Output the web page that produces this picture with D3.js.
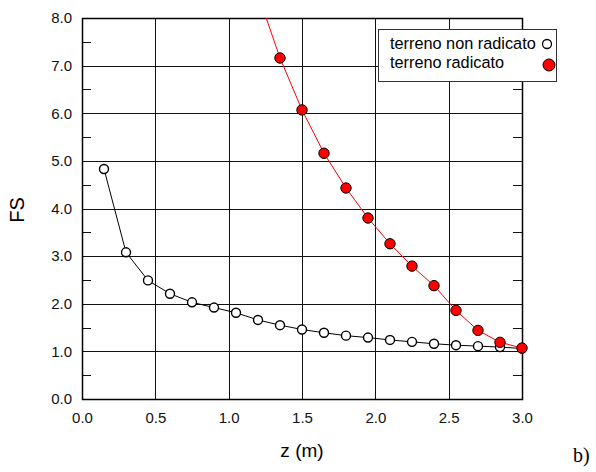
<!DOCTYPE html>
<meta charset="utf-8">
<head lang="en">
    <title></title>
    <script src="https://d3js.org/d3.v7.min.js"></script>
    <style type="text/css">
        body { margin: 0; background: #fff; }
        svg { font-family: "Liberation Sans", Arial, sans-serif; }
        .grid line { stroke: #111; stroke-width: 1; shape-rendering: crispEdges; }
        .axis text { font-size: 15px; fill: #111; }
    </style>
</head>
<body>
<script type="text/javascript">
    // depth values (m)
    var zNonRad = [0.15, 0.30, 0.45, 0.60, 0.75, 0.90, 1.05, 1.20, 1.35, 1.50, 1.65, 1.80, 1.95,
        2.10, 2.25, 2.40, 2.55, 2.70, 2.85, 3.00];
    var fsNonRad = [4.83, 3.08, 2.49, 2.21, 2.03, 1.92, 1.81, 1.66, 1.55, 1.46, 1.39, 1.33, 1.29,
        1.24, 1.20, 1.16, 1.13, 1.11, 1.09, 1.06];
    var zRad = [1.20, 1.35, 1.50, 1.65, 1.80, 1.95, 2.10, 2.25, 2.40, 2.55, 2.70, 2.85, 3.00];
    var fsRad = [8.50, 7.16, 6.07, 5.16, 4.43, 3.80, 3.26, 2.79, 2.38, 1.86, 1.44, 1.19, 1.07];
    var xTicks = [0, 0.5, 1.0, 1.5, 2.0, 2.5, 3.0];
    var yTicks = [0, 1, 2, 3, 4, 5, 6, 7, 8];
    var yMinor = [0.5, 1.5, 2.5, 3.5, 4.5, 5.5, 6.5, 7.5];
    var legendLabels = ["terreno non radicato", "terreno radicato"];

    var width = 596, height = 472;
    var margin = {left: 82, top: 18, right: 74, bottom: 73};
    var w = width - margin.left - margin.right;
    var h = height - margin.top - margin.bottom;

    var svg = d3.select("body").append("svg")
        .attr("width", width)
        .attr("height", height);

    var g = svg.append("g")
        .attr("transform", "translate(" + margin.left + "," + margin.top + ")");

    var x = d3.scaleLinear().domain([0, 3]).range([0, w]);
    var y = d3.scaleLinear().domain([0, 8]).range([h, 0]);

    // grid
    var grid = g.append("g").attr("class", "grid");
    grid.selectAll(".vx").data(xTicks).enter().append("line")
        .attr("x1", function (d) { return Math.round(x(d)) + 0.5; })
        .attr("x2", function (d) { return Math.round(x(d)) + 0.5; })
        .attr("y1", 0).attr("y2", h);
    grid.selectAll(".hy").data(yTicks).enter().append("line")
        .attr("y1", function (d) { return Math.round(y(d)) + 0.5; })
        .attr("y2", function (d) { return Math.round(y(d)) + 0.5; })
        .attr("x1", 0).attr("x2", w);

    // frame
    g.append("rect")
        .attr("x", 0.5).attr("y", 0.5)
        .attr("width", w).attr("height", h)
        .attr("fill", "none")
        .attr("stroke", "#000")
        .attr("stroke-width", 1.5);

    // minor ticks on left and right edges
    grid.selectAll(".ml").data(yMinor).enter().append("line")
        .attr("y1", function (d) { return Math.round(y(d)) + 0.5; })
        .attr("y2", function (d) { return Math.round(y(d)) + 0.5; })
        .attr("x1", 0).attr("x2", 9);
    grid.selectAll(".mr").data(yMinor).enter().append("line")
        .attr("y1", function (d) { return Math.round(y(d)) + 0.5; })
        .attr("y2", function (d) { return Math.round(y(d)) + 0.5; })
        .attr("x1", w - 9).attr("x2", w);

    // axes (labels only)
    var xAxis = d3.axisBottom(x).tickValues(xTicks).tickSize(0).tickPadding(13)
        .tickFormat(d3.format(".1f"));
    var yAxis = d3.axisLeft(y).tickValues(yTicks).tickSize(0).tickPadding(10)
        .tickFormat(d3.format(".1f"));
    g.append("g").attr("class", "axis")
        .attr("transform", "translate(0," + h + ")")
        .call(xAxis)
        .call(function (s) { s.select(".domain").remove(); });
    g.append("g").attr("class", "axis")
        .call(yAxis)
        .call(function (s) { s.select(".domain").remove(); });

    // clip
    g.append("clipPath").attr("id", "clip")
        .append("rect").attr("x", 0).attr("y", 0).attr("width", w).attr("height", h);

    var nonRad = zNonRad.map(function (z, i) { return {z: z, fs: fsNonRad[i]}; });
    var rad = zRad.map(function (z, i) { return {z: z, fs: fsRad[i]}; });

    var line = d3.line()
        .x(function (d) { return x(d.z); })
        .y(function (d) { return y(d.fs); });

    var plot = g.append("g").attr("clip-path", "url(#clip)");

    plot.append("path").datum(nonRad)
        .attr("d", line)
        .attr("fill", "none")
        .attr("stroke", "#000")
        .attr("stroke-width", 1);
    plot.append("path").datum(rad)
        .attr("d", line)
        .attr("fill", "none")
        .attr("stroke", "#ff0000")
        .attr("stroke-width", 1);

    g.selectAll(".pn").data(nonRad).enter().append("circle")
        .attr("cx", function (d) { return x(d.z); })
        .attr("cy", function (d) { return y(d.fs); })
        .attr("r", 4.5)
        .attr("fill", "#fff")
        .attr("stroke", "#000")
        .attr("stroke-width", 1.4);
    g.selectAll(".pr").data(rad.filter(function (d) { return d.fs <= 8; })).enter().append("circle")
        .attr("cx", function (d) { return x(d.z); })
        .attr("cy", function (d) { return y(d.fs); })
        .attr("r", 5.2)
        .attr("fill", "#ff0000")
        .attr("stroke", "#000")
        .attr("stroke-width", 1);

    // axis titles
    svg.append("text")
        .attr("x", 302).attr("y", 457)
        .attr("text-anchor", "middle")
        .attr("font-size", "19px")
        .text("z (m)");
    svg.append("text")
        .attr("transform", "translate(24,210) rotate(-90)")
        .attr("text-anchor", "middle")
        .attr("font-size", "20px")
        .text("FS");
    svg.append("text")
        .attr("x", 573).attr("y", 462)
        .attr("font-family", "Liberation Serif, Times New Roman, serif")
        .attr("font-size", "20px")
        .text("b)");

    // legend
    var lg = svg.append("g");
    lg.append("rect")
        .attr("x", 378.5).attr("y", 29.5)
        .attr("width", 178).attr("height", 52)
        .attr("fill", "#fff")
        .attr("stroke", "#333")
        .attr("stroke-width", 1);
    lg.selectAll("text").data(legendLabels).enter().append("text")
        .attr("x", 390)
        .attr("y", function (d, i) { return 49 + i * 19; })
        .attr("font-size", "16.3px")
        .text(function (d) { return d; });
    lg.append("circle")
        .attr("cx", 547).attr("cy", 44).attr("r", 4.5)
        .attr("fill", "#fff").attr("stroke", "#000").attr("stroke-width", 1.3);
    lg.append("circle")
        .attr("cx", 549).attr("cy", 65).attr("r", 6)
        .attr("fill", "#ff0000").attr("stroke", "#000").attr("stroke-width", 1);
</script>
</body>
